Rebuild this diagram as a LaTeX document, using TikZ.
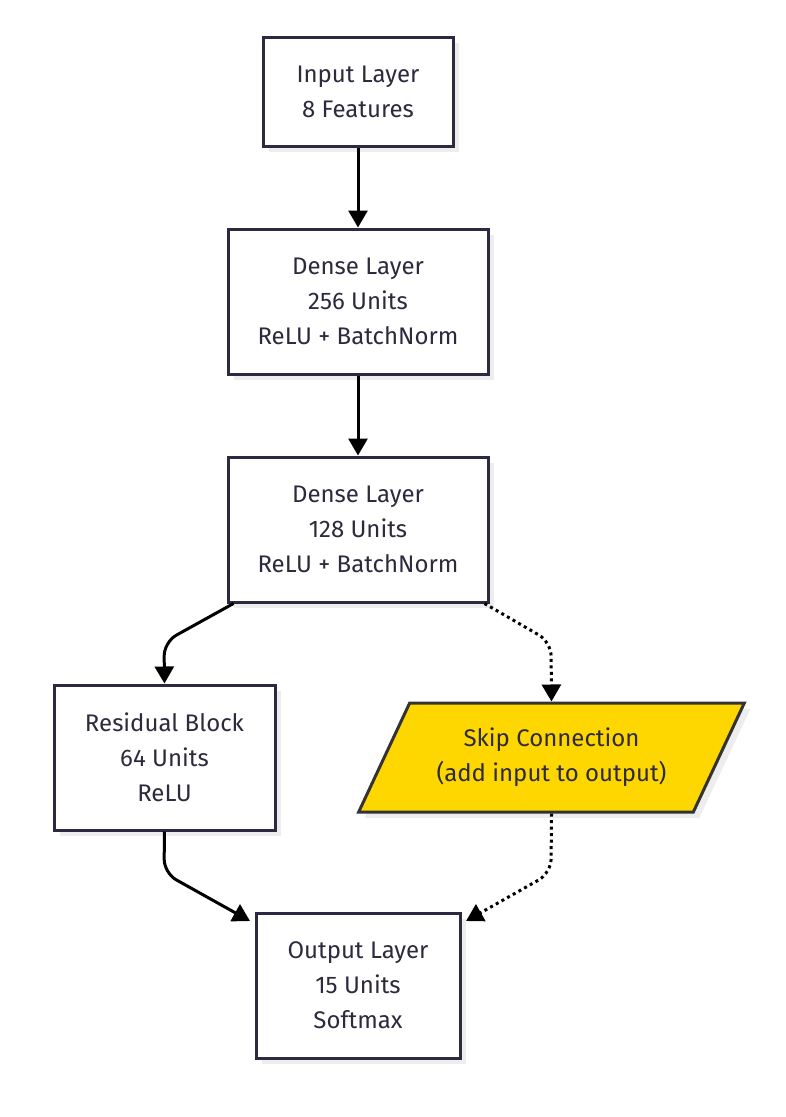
\documentclass[tikz,border=0pt]{standalone}
\usepackage{fontspec}
\setmainfont{Fira Sans}
\usetikzlibrary{arrows.meta,shapes.geometric,shadows}
\definecolor{boxline}{HTML}{2B2A40}
\definecolor{boxtext}{HTML}{2D2A3E}
\definecolor{skipfill}{HTML}{FFD700}
\tikzset{
  layer/.style={draw=boxline, line width=3pt, fill=white, align=center,
    text=boxtext, font=\fontsize{24}{35}\selectfont,
    drop shadow={shadow xshift=6pt, shadow yshift=-6pt, fill=black!7, opacity=1}},
  skip/.style={layer, trapezium, trapezium left angle=57, trapezium right angle=123,
    trapezium stretches=true, fill=skipfill, draw=black!80},
  arr/.style={-{Triangle[length=17pt,width=19pt]}, line width=3pt, rounded corners=14pt},
  dots/.style={arr, dash pattern=on 3pt off 3.5pt}
}
\begin{document}
\begin{tikzpicture}[x=1pt,y=-1pt]
  \useasboundingbox (0,0) rectangle (785,1117);
  \node [layer, minimum width=190pt, minimum height=109pt] (inp) at (358,91.5) {Input Layer\\8 Features};
  \node [layer, minimum width=260pt, minimum height=145pt] (d1) at (358,301.5) {Dense Layer\\256 Units\\ReLU + BatchNorm};
  \node [layer, minimum width=260pt, minimum height=145pt] (d2) at (358,529.5) {Dense Layer\\128 Units\\ReLU + BatchNorm};
  \node [layer, minimum width=221pt, minimum height=145pt] (res) at (164.5,757.5) {Residual Block\\64 Units\\ReLU};
  \node [skip, minimum width=387pt, minimum height=109pt] (skp) at (551.5,757.5) {Skip Connection\\(add input to output)};
  \node [layer, minimum width=204pt, minimum height=145pt] (out) at (358,985.5) {Output Layer\\15 Units\\Softmax};
  \coordinate (j1) at (164,642);
  \coordinate (j2) at (551,642);
  \coordinate (j3) at (164,873);
  \coordinate (j4) at (551,873);
  \coordinate (o1) at (250,921);
  \coordinate (o2) at (466,921);
  \draw [arr] (inp) -- (d1);
  \draw [arr] (d1) -- (d2);
  \draw [arr] ([xshift=7pt]d2.south west) -- (j1) -- (res.north);
  \draw [dots] ([xshift=-5pt]d2.south east) -- (j2) -- (skp.north);
  \draw [arr] (res.south) -- (j3) -- (o1);
  \draw [dots] (skp.south) -- (j4) -- (o2);
\end{tikzpicture}
\end{document}
